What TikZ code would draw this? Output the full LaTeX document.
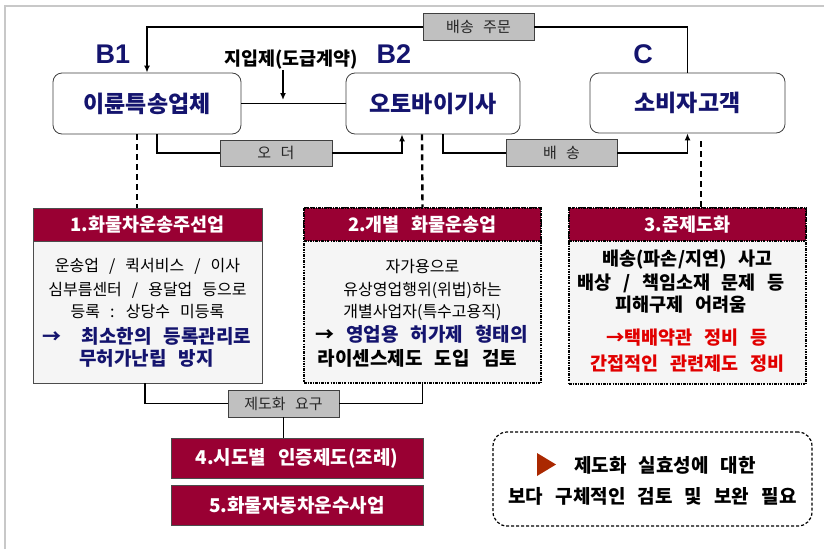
\documentclass[tikz,border=0pt]{standalone}
\usepackage{fontspec}
\setmainfont{Noto Sans CJK KR}[WordSpace=2.8]
\newfontfamily\latinb{Liberation Sans}
\usetikzlibrary{arrows.meta}
\definecolor{crim}{RGB}{153,0,51}
\definecolor{navyt}{RGB}{20,20,110}
\definecolor{bodyg}{RGB}{245,245,245}
\definecolor{lblg}{RGB}{192,192,192}
\definecolor{redt}{RGB}{225,0,0}
\definecolor{trit}{RGB}{170,40,0}
\definecolor{framec}{RGB}{200,200,200}
\newcommand\myfs[1]{\fontsize{#1}{#1}\selectfont}
\tikzset{
  entity/.style={draw=black!75, line width=0.8pt, rounded corners=9pt, fill=white, inner sep=0pt,
    font=\myfs{23}\bfseries, text=navyt},
  lab/.style={font=\latinb\myfs{27}\bfseries, text=navyt, inner sep=0pt},
  tagbox/.style={draw=black!75, fill=lblg, line width=0.9pt, inner sep=0pt, font=\myfs{15}, text=black!85},
  conn/.style={line width=1.4pt},
  arr/.style={line width=1.4pt, -{Latex[length=7pt,width=6pt]}},
  dashv/.style={line width=2.4pt, dash pattern=on 6pt off 4pt},
  headsolid/.style={draw=black!70, fill=crim, line width=0.9pt, inner sep=0pt, text=white, font=\myfs{18.5}\bfseries},
  headdot/.style={draw=black, fill=crim, line width=1.1pt, dash pattern=on 2.5pt off 1.2pt on 0.8pt off 1.2pt, inner sep=0pt, text=white, font=\myfs{18.5}\bfseries},
  bodysolid/.style={draw=black!70, fill=bodyg, line width=0.9pt, inner sep=0pt},
  bodydot/.style={draw=black, fill=bodyg, line width=1.1pt, dash pattern=on 2.5pt off 1.2pt on 0.8pt off 1.2pt, inner sep=0pt},
  redbox/.style={draw=black!70, fill=crim, line width=0.9pt, inner sep=0pt, text=white, font=\myfs{19}\bfseries, minimum width=252pt, minimum height=40pt},
  txt/.style={inner sep=0pt, font=\myfs{16}, text=black},
  txtb/.style={inner sep=0pt, font=\myfs{19}\bfseries, text=navyt},
  txtk/.style={inner sep=0pt, font=\myfs{18.5}\bfseries, text=black},
  txtr/.style={inner sep=0pt, font=\myfs{18.5}\bfseries, text=redt},
  notebox/.style={draw=black, line width=1.2pt, dash pattern=on 3pt off 2pt, rounded corners=14pt, fill=white, inner sep=0pt}
}
\begin{document}
\begin{tikzpicture}[x=1pt,y=-1pt]
\useasboundingbox (0,0) rectangle (824,549);
\fill[white] (0,0) rectangle (824,549);
\draw[framec, line width=2pt] (4.5,549) -- (4.5,5.5) -- (824,5.5);

% entities
\node[entity, minimum width=188pt, minimum height=61pt] (b1) at (147,103.5) {\raisebox{-2pt}{이륜특송업체}};
\node[entity, minimum width=174pt, minimum height=61pt] (b2) at (433,103.5) {\raisebox{-2pt}{오토바이기사}};
\node[entity, minimum width=195pt, minimum height=60pt] (c) at (687.5,103) {\raisebox{-2pt}{소비자고객}};
\node[lab] (lb1) at (113,54) {B1};
\node[lab] (lb2) at (394,54) {B2};
\node[lab] (lc) at (643,54) {C};

% tags
\node[tagbox, minimum width=111pt, minimum height=27pt] (tord) at (478.5,27) {배송 주문};
\node[tagbox, minimum width=112pt, minimum height=26pt] (tod) at (276,153) {오 더};
\node[tagbox, minimum width=111pt, minimum height=27pt] (tdel) at (561.5,153) {배 송};

% top connector
\draw[conn] (c.north) |- (tord.east);
\draw[arr] (tord.west) -| (b1.north);
% contract
\node[inner sep=0pt, font=\myfs{18.5}\bfseries] (jip) at (291,60) {지입제(도급계약)};
\draw[conn] (b1.east) -- (b2.west);
\coordinate (jp) at (283,104);
\draw[arr, shorten >=4pt] (jip.south -| jp) -- (jp);
% order / delivery
\draw[conn] ([xshift=10pt]b1.south) |- (tod.west);
\draw[arr] (tod.east) -| ([xshift=-31pt]b2.south);
\draw[conn] ([xshift=10pt]b2.south) |- (tdel.west);
\draw[arr] (tdel.east) -| (c.south);

% boxes
\node[bodysolid, minimum width=229pt, minimum height=175pt] (body1) at (147.5,295.5) {};
\node[headsolid, minimum width=229pt, minimum height=33pt] (h1) at (147.5,224.5) {1.화물차운송주선업};
\node[bodydot, minimum width=237pt, minimum height=175pt] (body2) at (422.5,295.5) {};
\node[headdot, minimum width=237pt, minimum height=33pt] (h2) at (422.5,224.5) {2.개별 화물운송업};
\node[bodydot, minimum width=237pt, minimum height=176pt] (body3) at (687.5,296) {};
\node[headdot, minimum width=237pt, minimum height=33pt] (h3) at (687.5,224.5) {3.준제도화};

% dashed verticals
\draw[dashv] ([xshift=-10pt]b1.south) -- ([xshift=-10.5pt]h1.north);
\draw[dashv] ([xshift=-11pt]b2.south) -- (h2.north);
\draw[dashv] ([xshift=13.5pt,yshift=-8pt]c.south) -- ([xshift=13.5pt]h3.north);

% box 1 text
\node[txt] (t11) at (147.5,266.5) {운송업 / 퀵서비스 / 이사};
\node[txt] (t12) at (147.5,290) {심부름센터 / 용달업 등으로};
\node[txt] (t13) at (147.5,312) {등록 : 상당수 미등록};
\node[txtb] (t14) at (147,336) {→\hspace{20pt}최소한의 등록관리로};
\node[txtb] (t15) at (146.5,358) {무허가난립 방지};
% box 2 text
\node[txt] (t21) at (422.5,267) {자가용으로};
\node[txt] (t22) at (422.5,290) {유상영업행위(위법)하는};
\node[txt] (t23) at (422.5,312) {개별사업자(특수고용직)};
\node[txtb] (t24) at (421.5,334) {\textcolor{black}{→} 영업용 허가제 형태의};
\node[txtk, font=\myfs{19}\bfseries] (t25) at (417.5,358) {라이센스제도 도입 검토};
% box 3 text
\node[txtk] (t31) at (687.5,260) {배송(파손/지연) 사고};
\node[txtk] (t32) at (681,283) {배상 / 책임소재 문제 등};
\node[txtk] (t33) at (681,305) {피해구제 어려움};
\node[txtr] (t34) at (687,338) {→택배약관 정비 등};
\node[txtr] (t35) at (687.5,364) {간접적인 관련제도 정비};

% bottom
\node[tagbox, minimum width=111pt, minimum height=27pt] (treq) at (283.5,403.5) {제도화 요구};
\node[redbox] (bx4) at (297,458) {4.시도별 인증제도(조례)};
\node[redbox] (bx5) at (297,505) {5.화물자동차운수사업};
\draw[conn] ([xshift=-2.5pt]body1.south) |- (treq.west);
\draw[conn] (treq.east) -| (body2.south);
\draw[conn] (treq.south) -- (treq.south |- bx4.north);

% note
\node[notebox, minimum width=319pt, minimum height=94pt] (note) at (652.5,479) {};
\fill[trit] (537,453) -- (556,464.5) -- (537,476) -- cycle;
\node[inner sep=0pt, font=\myfs{19}\bfseries] (n1) at (665,465) {제도화 실효성에 대한};
\node[inner sep=0pt, font=\myfs{19}\bfseries] (n2) at (652.5,496) {보다 구체적인 검토 및 보완 필요};
\end{tikzpicture}
\end{document}
